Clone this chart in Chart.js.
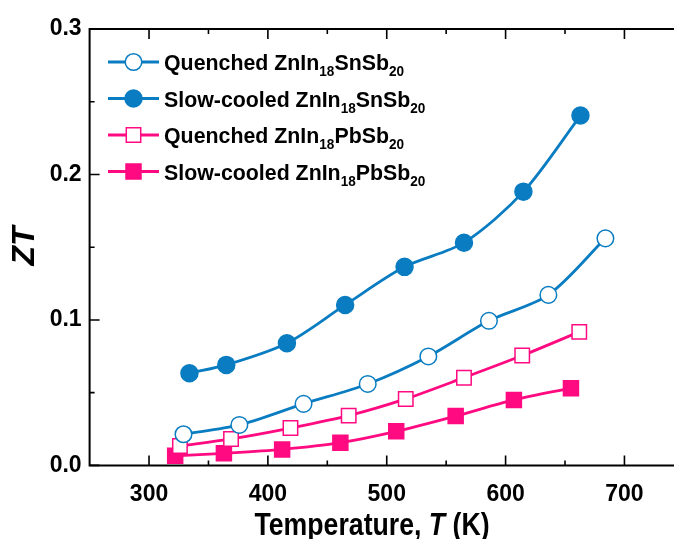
<!DOCTYPE html>
<html>
<head>
<meta charset="utf-8">
<script src="https://cdn.jsdelivr.net/npm/chart.js@4.4.1/dist/chart.umd.min.js"></script>
<style>
  html, body { margin: 0; padding: 0; background: #fff; }
</style>
</head>
<body>
<canvas id="ztChart" width="674" height="539"></canvas>
<script>
// temperature (K) and ZT for the four samples
const tQuenchedSn = [329, 376, 430, 484, 535, 586, 636, 684];
const ztQuenchedSn = [0.0214, 0.0278, 0.0423, 0.0560, 0.0749, 0.0994, 0.1172, 0.1561];
const tSlowSn = [334, 365, 416, 465, 515, 565, 615, 663];
const ztSlowSn = [0.0634, 0.0691, 0.0840, 0.1103, 0.1365, 0.1531, 0.1882, 0.2405];
const tQuenchedPb = [326, 369, 419, 468, 516, 565, 614, 662];
const ztQuenchedPb = [0.0133, 0.0182, 0.0257, 0.0342, 0.0457, 0.0603, 0.0755, 0.0918];
const tSlowPb = [322, 363, 412, 461, 508, 558, 607, 655];
const ztSlowPb = [0.0066, 0.0083, 0.0110, 0.0156, 0.0234, 0.0339, 0.0450, 0.0531];

// legend text, split so the numbers can be set as subscripts
const seriesNames = [
  ["Quenched ZnIn", "18", "SnSb", "20"],
  ["Slow-cooled ZnIn", "18", "SnSb", "20"],
  ["Quenched ZnIn", "18", "PbSb", "20"],
  ["Slow-cooled ZnIn", "18", "PbSb", "20"]
];

const xTicks = [300, 350, 400, 450, 500, 550, 600, 650, 700];
const yTicks = [0, 0.05, 0.1, 0.15, 0.2, 0.25, 0.3];

const BLUE = "#0a7cc1";
const PINK = "#ff0a80";
const FONT = "'Liberation Sans', Arial, sans-serif";

function pts(xs, ys) {
  return xs.map((x, i) => ({ x: x, y: ys[i] }));
}

function series(xs, ys, color, style, filled, r) {
  return {
    data: pts(xs, ys),
    borderColor: color,
    borderWidth: 2.8,
    tension: 0.3,
    pointStyle: style,
    pointRadius: r,
    pointBorderWidth: 1.5,
    pointBorderColor: color,
    pointBackgroundColor: filled ? color : "#ffffff",
    fill: false
  };
}

const datasets = [
  series(tQuenchedSn, ztQuenchedSn, BLUE, "circle", false, 8.3),
  series(tSlowSn, ztSlowSn, BLUE, "circle", true, 8.5),
  series(tQuenchedPb, ztQuenchedPb, PINK, "rect", false, 10.2),
  series(tSlowPb, ztSlowPb, PINK, "rect", true, 10.6)
];

// write text pieces left to right, squeezed horizontally by sx
function drawRun(ctx, pieces, x, y, sx) {
  pieces.forEach(p => {
    ctx.font = p.font;
    ctx.save();
    ctx.translate(x, y + (p.dy || 0));
    ctx.scale(sx, 1);
    ctx.fillText(p.text, 0, 0);
    ctx.restore();
    x += ctx.measureText(p.text).width * sx;
  });
  return x;
}

function runWidth(ctx, pieces, sx) {
  let w = 0;
  pieces.forEach(p => { ctx.font = p.font; w += ctx.measureText(p.text).width * sx; });
  return w;
}

// frame with inward ticks (major every 100 K / 0.1, minor in between)
const framePlugin = {
  id: "frame",
  afterDatasetsDraw(chart) {
    const ctx = chart.ctx;
    const a = chart.chartArea;
    const xs = chart.scales.x;
    const ys = chart.scales.y;
    ctx.save();
    ctx.strokeStyle = "#000";
    ctx.lineWidth = 2;
    ctx.beginPath();
    ctx.moveTo(a.right + 2, a.top);
    ctx.lineTo(a.left, a.top);
    ctx.lineTo(a.left, a.bottom);
    ctx.lineTo(a.right + 2, a.bottom);
    ctx.stroke();
    ctx.lineWidth = 1.6;
    ctx.beginPath();
    xTicks.forEach(v => {
      const px = xs.getPixelForValue(v);
      const len = v % 100 === 0 ? 10 : 5;
      ctx.moveTo(px, a.bottom);
      ctx.lineTo(px, a.bottom - len);
      ctx.moveTo(px, a.top);
      ctx.lineTo(px, a.top + len);
    });
    yTicks.forEach((v, i) => {
      const py = ys.getPixelForValue(v);
      const len = i % 2 === 0 ? 10 : 5;
      ctx.moveTo(a.left, py);
      ctx.lineTo(a.left + len, py);
    });
    ctx.stroke();
    ctx.restore();
  }
};

// legend with subscripts, plus the two axis titles
const textPlugin = {
  id: "texts",
  afterDraw(chart) {
    const ctx = chart.ctx;
    ctx.save();
    ctx.textBaseline = "alphabetic";
    ctx.textAlign = "left";
    chart.data.datasets.forEach((ds, i) => {
      const cy = 62 + 36.5 * i;
      ctx.strokeStyle = ds.borderColor;
      ctx.lineWidth = ds.borderWidth;
      ctx.beginPath();
      ctx.moveTo(108, cy);
      ctx.lineTo(159, cy);
      ctx.stroke();
      ctx.fillStyle = ds.pointBackgroundColor;
      ctx.strokeStyle = ds.pointBorderColor;
      ctx.lineWidth = ds.pointBorderWidth;
      Chart.helpers.drawPoint(ctx, {
        pointStyle: ds.pointStyle,
        radius: ds.pointRadius,
        rotation: 0,
        borderWidth: ds.pointBorderWidth
      }, 133.5, cy);

      ctx.fillStyle = "#000";
      const pieces = seriesNames[i].map((t, k) => k % 2 === 1
        ? { text: t, font: "bold 14px " + FONT, dy: 6 }
        : { text: t, font: "bold 22px " + FONT, dy: 0 });
      drawRun(ctx, pieces, 164, cy + 8, 0.97);
    });

    // x axis title: "Temperature, T (K)" with italic T
    const title = [
      { text: "Temperature, ", font: "bold 31px " + FONT },
      { text: "T", font: "italic bold 31px " + FONT },
      { text: " (K)", font: "bold 31px " + FONT }
    ];
    const sx = 0.86;
    ctx.fillStyle = "#000";
    drawRun(ctx, title, 372 - runWidth(ctx, title, sx) / 2, 535, sx);

    // y axis title
    ctx.translate(25, 246);
    ctx.rotate(-Math.PI / 2);
    ctx.font = "italic bold 32px " + FONT;
    ctx.textAlign = "center";
    ctx.textBaseline = "middle";
    ctx.fillText("ZT", 0, 0);
    ctx.restore();
  }
};

new Chart(document.getElementById("ztChart"), {
  type: "line",
  data: { datasets: datasets },
  options: {
    responsive: false,
    animation: false,
    events: [],
    layout: { autoPadding: false, padding: { top: 29, right: 0, left: 0, bottom: 0 } },
    plugins: { legend: { display: false }, tooltip: { enabled: false } },
    scales: {
      x: {
        type: "linear",
        min: 250,
        max: 741.7,
        afterBuildTicks: s => { s.ticks = xTicks.map(v => ({ value: v })); },
        afterFit: s => { s.height = 539 - 465.4; },
        grid: { display: false, drawTicks: false },
        border: { display: false },
        ticks: {
          autoSkip: false,
          maxRotation: 0,
          padding: 15,
          color: "#000",
          font: { family: FONT, size: 23, weight: "bold" },
          callback: v => (v % 100 === 0 ? String(v) : "")
        }
      },
      y: {
        min: 0,
        max: 0.3,
        afterBuildTicks: s => { s.ticks = yTicks.map(v => ({ value: v })); },
        afterFit: s => { s.width = 89.6; },
        grid: { display: false, drawTicks: false },
        border: { display: false },
        ticks: {
          autoSkip: false,
          padding: 8,
          color: "#000",
          font: { family: FONT, size: 23, weight: "bold" },
          callback: v => (Math.round(v * 100) % 10 === 0 ? v.toFixed(1) : "")
        }
      }
    }
  },
  plugins: [framePlugin, textPlugin]
});
</script>
</body>
</html>
